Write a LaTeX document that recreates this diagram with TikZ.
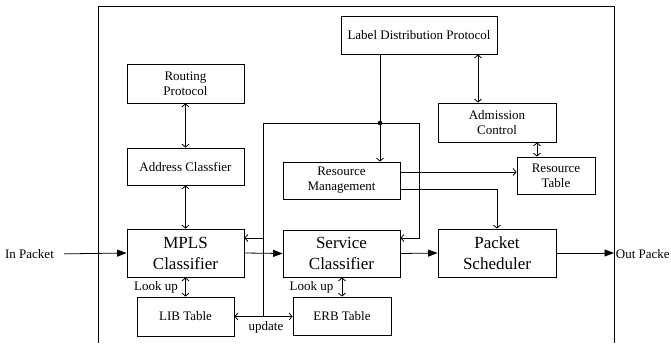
\documentclass[tikz,border=0pt]{standalone}
\usepackage{fontspec}
\setmainfont{Liberation Serif}
\usetikzlibrary{arrows.meta,calc}
\begin{document}
\begin{tikzpicture}[x=1pt,y=-1pt,line width=0.8pt,
  box/.style={draw,rectangle,align=center,inner sep=0pt,font=\fontsize{13}{15}\selectfont},
  bigbox/.style={draw,rectangle,align=center,inner sep=0pt,font=\fontsize{17}{21}\selectfont},
  lbl/.style={inner sep=0pt,font=\fontsize{13}{15}\selectfont},
  arr/.style={-{Straight Barb[length=3pt,width=7pt]}},
  darr/.style={{Straight Barb[length=3pt,width=7pt]}-{Straight Barb[length=3pt,width=7pt]}},
  flow/.style={-{Triangle[length=9.5pt,width=7pt]}}]
\useasboundingbox (0,0) rectangle (671,343);
% frame
\draw (98,343) -- (98,6) -- (614,6) -- (614,343);
% nodes
\node[box,minimum width=117pt,minimum height=39pt] (route) at (185.5,83.5) {Routing\\Protocol};
\node[box,minimum width=117pt,minimum height=37pt] (addr) at (185.5,166.5) {Address Classfier};
\node[bigbox,minimum width=117pt,minimum height=48pt] (mpls) at (185.5,253) {MPLS\\Classifier};
\node[box,minimum width=97pt,minimum height=39pt] (lib) at (185.5,316.5) {LIB Table};
\node[box,minimum width=98pt,minimum height=38pt] (erb) at (342,316) {ERB Table};
\node[bigbox,minimum width=117pt,minimum height=47pt] (svc) at (341.5,253.5) {Service\\Classifier};
\node[box,minimum width=117pt,minimum height=37pt] (rm) at (341.5,180.5) {Resource\\Management};
\node[box,minimum width=156pt,minimum height=38pt] (ldp) at (419,35) {Label Distribution Protocol};
\node[box,minimum width=118pt,minimum height=39pt] (adm) at (497,122.5) {Admission\\Control};
\node[box,minimum width=78pt,minimum height=37pt] (rt) at (556,175.5) {Resource\\Table};
\node[bigbox,minimum width=118pt,minimum height=48pt] (ps) at (497,253) {Packet\\Scheduler};
% labels
\node[lbl] (inpkt) at (29.5,254) {In Packet};
\node[lbl,anchor=west] (outpkt) at (615.5,254) {Out Packe};
\node[lbl] (look1) at (156,287) {Look up};
\node[lbl] (look2) at (311.5,287) {Look up};
\node[lbl] (upd) at (266,327) {update};
% coordinates
\coordinate (dot) at (380,123);
\coordinate (tl) at (263,123);
\coordinate (tr) at (419,123);
\coordinate (outp) at (614,253);
\coordinate (ldpx) at (478,0);
\coordinate (admx) at (537,0);
% vertical double arrows
\draw[darr] (route.south) -- (addr.north);
\draw[darr] (addr.south) -- (mpls.north);
\draw[darr] (mpls.south) -- (lib.north);
\draw[darr] (erb.north |- svc.south) -- (erb.north);
\draw[darr] (ldp.south -| ldpx) -- (adm.north -| ldpx);
\draw[darr] (adm.south -| admx) -- (rt.north -| admx);
% main flow
\draw[flow,shorten <=10pt] (inpkt.east) -- (mpls.west);
\draw[flow] (mpls.east) -- (svc.west);
\draw[flow] (svc.east) -- (ps.west);
\draw[flow] (ps.east |- outp) -- (outp);
% LDP to resource management
\draw[arr] (ldp.south -| dot) -- (rm.north -| dot);
\fill (dot) circle (2.3pt);
% feedback loop
\draw (tl) -- (tr);
\draw[arr] (tr) |- ([yshift=15.5pt]svc.east);
\draw (tl) -- (tl |- lib.east);
\draw[arr] (tl |- 0,238) -- ([yshift=15pt]mpls.east);
\draw[darr] (lib.east) -- (lib.east -| erb.west);
% resource management outputs
\draw[arr] ([yshift=8.5pt]rm.east) -- ([yshift=8.5pt]rm.east -| rt.west);
\draw[arr] ([yshift=-8.5pt]rm.east) -| (ps.north);
\end{tikzpicture}
\end{document}
